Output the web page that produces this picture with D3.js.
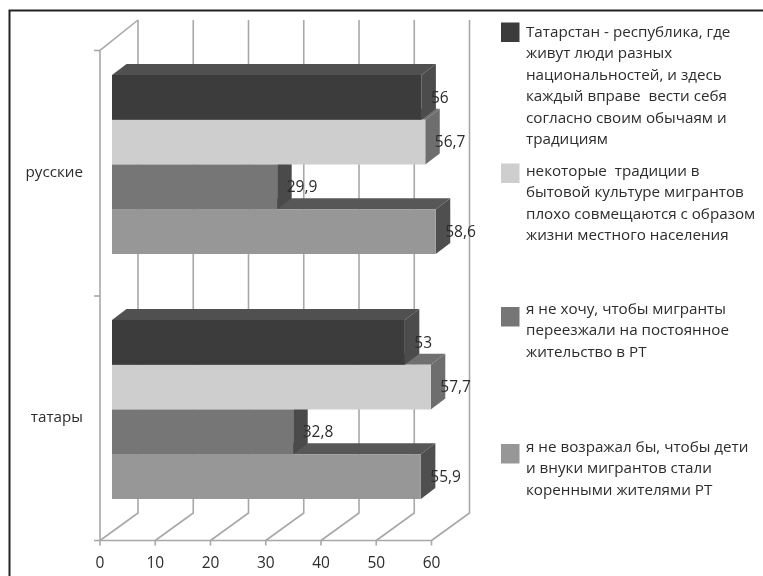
<!DOCTYPE html>
<html><head><meta charset="utf-8">
<script src="https://cdn.jsdelivr.net/npm/d3@7/dist/d3.min.js"></script>
<style>
html,body{margin:0;padding:0;background:#fff}
svg{display:block;filter:blur(.6px)}
text{font-family:"Open Sans","Noto Sans",sans-serif;fill:#2c2c2c;white-space:pre}
</style></head><body><div id="c"></div>
<script>
const categories=["русские","татары"];
const seriesNames=[
 ["Татарстан - республика, где","живут люди разных","национальностей, и здесь","каждый вправе  вести себя","согласно своим обычаям и","традициям"],
 ["некоторые  традиции в","бытовой культуре мигрантов","плохо совмещаются с образом","жизни местного населения"],
 ["я не хочу, чтобы мигранты","переезжали на постоянное","жительство в РТ"],
 ["я не возражал бы, чтобы дети","и внуки мигрантов стали","коренными жителями РТ"]
];
const russkie=[56,56.7,29.9,58.6];
const tatary=[53,57.7,32.8,55.9];
const valueTicks=[0,10,20,30,40,50,60];
const front=["#3c3c3c","#cecece","#767676","#979797"];
const side=["#4c4c4c","#6e6e6e","#4a4a4a","#4f4f4f"];
const top_=["#505050","#707070","#505050","#575757"];
const values=[russkie,tatary];

const W=763,H=576;
const svg=d3.select("#c").append("svg").attr("width",W).attr("height",H);
const fmt=v=>String(v).replace(".",",");
const x=d3.scaleLinear().domain([0,60]).range([100,431.5]);
const yCat=d3.scaleBand().domain(categories).range([50,540]);
const wall={dx:38,dy:-27.5}, depth={dx:14.5,dy:-11}, inset=12;
const ySer=d3.scaleBand().domain(d3.range(4)).range([0,179]);
const grid="#a8a8a8";

// frame
svg.append("path").attr("d",`M${W},10.5H9.5V${H}`).attr("fill","none").attr("stroke","#222").attr("stroke-width",2);

// walls
const g=svg.append("g").attr("fill","none").attr("stroke",grid).attr("stroke-width",1.6);
valueTicks.forEach(t=>{
  const X=x(t);
  g.append("path").attr("d",`M${X},540.5L${X+wall.dx},${540.5+wall.dy}V20`);
  g.append("path").attr("d",`M${X},540.5v5`);
});
g.append("path").attr("d",`M${x(0)},540.5H${x(60)}`);
g.append("path").attr("d",`M${x(0)},540.5V50.5L${x(0)+wall.dx},20`);
[50.5,296,540.5].forEach(y=>g.append("path").attr("d",`M94,${y}H${x(0)}`));

// bars: drawn bottom-up so an upper bar hides the top of the one below it
categories.forEach((c,ci)=>{
  const gy=yCat(c)+yCat.bandwidth()/2-88.5-9;
  d3.range(3,-1,-1).forEach(i=>{
    const v=values[ci][i];
    const x0=x(0)+inset, x1=x(v)+inset, y0=gy+ySer(i), y1=y0+ySer.bandwidth();
    const d=depth;
    svg.append("path").attr("d",`M${x0},${y0}l${d.dx},${d.dy}H${x1+d.dx}L${x1},${y0}Z`).attr("fill",top_[i]);
    svg.append("path").attr("d",`M${x1},${y0}l${d.dx},${d.dy}V${y1+d.dy}L${x1},${y1}Z`).attr("fill",side[i]);
    svg.append("rect").attr("x",x0).attr("y",y0).attr("width",x1-x0).attr("height",y1-y0).attr("fill",front[i]);
  });
});
// data labels
categories.forEach((c,ci)=>{
  const gy=yCat(c)+yCat.bandwidth()/2-88.5-9;
  values[ci].forEach((v,i)=>{
    svg.append("text").attr("x",x(v)+inset+9.5).attr("y",gy+ySer(i)+ySer.bandwidth()/2+1)
      .attr("dominant-baseline","middle").attr("font-size",15.5).text(fmt(v));
  });
  svg.append("text").attr("x",83).attr("y",yCat(c)+yCat.bandwidth()/2+0.5)
    .attr("text-anchor","end").attr("dominant-baseline","middle").attr("font-size",15.2).text(c);
});
// axis labels
valueTicks.forEach(t=>svg.append("text").attr("x",x(t)).attr("y",563.5).attr("text-anchor","middle")
  .attr("dominant-baseline","middle").attr("font-size",15.5).text(t));

// legend
const legTop=[22.5,163.5,307,444];
const legLine=[33,172,310,448];
seriesNames.forEach((lines,i)=>{
  svg.append("rect").attr("x",501).attr("y",legTop[i]).attr("width",18.5).attr("height",19.5).attr("fill",front[i]);
  lines.forEach((l,j)=>svg.append("text").attr("x",526).attr("y",legLine[i]+j*21.4)
    .attr("dominant-baseline","middle").attr("font-size",15.2).text(l));
});
</script></body></html>
